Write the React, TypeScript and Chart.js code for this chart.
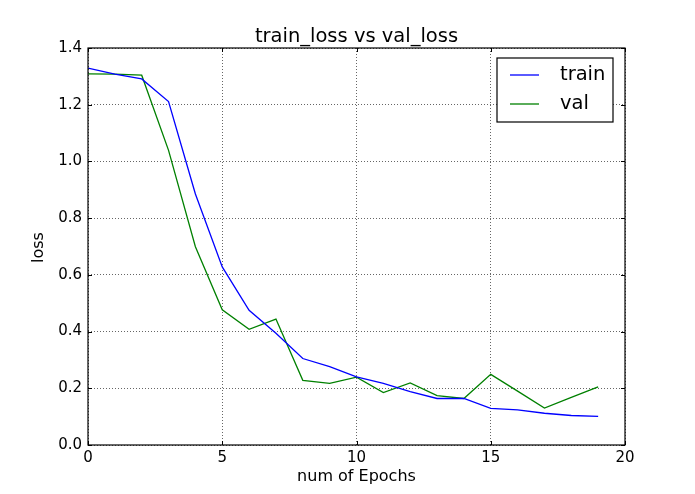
import React, { useEffect, useRef } from "react";
import { Chart, registerables } from "chart.js";

Chart.register(...registerables);

const epochs = [0, 1, 2, 3, 4, 5, 6, 7, 8, 9, 10, 11, 12, 13, 14, 15, 16, 17, 18, 19];
const trainLoss = [1.329, 1.308, 1.291, 1.211, 0.885, 0.628, 0.475, 0.394, 0.305, 0.276, 0.240, 0.217, 0.188, 0.164, 0.164, 0.129, 0.124, 0.112, 0.104, 0.101];
const valLoss = [1.309, 1.308, 1.304, 1.039, 0.699, 0.477, 0.408, 0.444, 0.228, 0.217, 0.239, 0.185, 0.219, 0.174, 0.164, 0.249, 0.190, 0.130, 0.168, 0.205];
const xTicks = [0, 5, 10, 15, 20];
const yTicks = [0, 0.2, 0.4, 0.6, 0.8, 1.0, 1.2, 1.4];
const titleText = "train_loss vs val_loss";
const xLabel = "num of Epochs";
const yLabel = "loss";
const seriesNames = ["train", "val"];
const seriesColors = ["#0000ff", "#008000"];

const FONT = "'DejaVu Sans', sans-serif";

const framePlugin = {
  id: "mplFrame",
  afterDraw(chart: any) {
    const { ctx, chartArea } = chart;
    const { left, right, top, bottom } = chartArea;
    const xs = chart.scales.x;
    const ys = chart.scales.y;
    ctx.save();
    // inward ticks
    ctx.strokeStyle = "#000";
    ctx.lineWidth = 1;
    ctx.beginPath();
    xTicks.forEach((t) => {
      const px = Math.round(xs.getPixelForValue(t)) + 0.5;
      ctx.moveTo(px, bottom);
      ctx.lineTo(px, bottom - 4);
      ctx.moveTo(px, top);
      ctx.lineTo(px, top + 4);
    });
    yTicks.forEach((t) => {
      const py = Math.round(ys.getPixelForValue(t)) + 0.5;
      ctx.moveTo(left, py);
      ctx.lineTo(left + 4, py);
      ctx.moveTo(right, py);
      ctx.lineTo(right - 4, py);
    });
    ctx.stroke();
    // frame
    ctx.lineWidth = 1.2;
    ctx.strokeRect(left, top, right - left, bottom - top);
    // title
    ctx.fillStyle = "#000";
    ctx.font = `19.5px ${FONT}`;
    ctx.textAlign = "center";
    ctx.textBaseline = "alphabetic";
    ctx.fillText(titleText, (left + right) / 2, top - 6);
    // axis labels
    ctx.font = `16px ${FONT}`;
    ctx.textBaseline = "middle";
    ctx.fillText(xLabel, (left + right) / 2, 477);
    ctx.save();
    ctx.translate(39, (top + bottom) / 2 + 1);
    ctx.rotate(-Math.PI / 2);
    ctx.fillText(yLabel, 0, 0);
    ctx.restore();
    // legend
    const bx = right - 128;
    const by = top + 10;
    const bw = 116;
    const bh = 64;
    ctx.fillStyle = "#fff";
    ctx.fillRect(bx, by, bw, bh);
    ctx.strokeStyle = "#000";
    ctx.lineWidth = 1.2;
    ctx.strokeRect(bx, by, bw, bh);
    ctx.font = `19.5px ${FONT}`;
    ctx.textAlign = "left";
    ctx.textBaseline = "middle";
    seriesNames.forEach((name, i) => {
      const cy = by + 17 + i * 29;
      ctx.strokeStyle = seriesColors[i];
      ctx.lineWidth = 1.3;
      ctx.beginPath();
      ctx.moveTo(bx + 13, cy);
      ctx.lineTo(bx + 42, cy);
      ctx.stroke();
      ctx.fillStyle = "#000";
      ctx.fillText(name, bx + 63, cy);
    });
    ctx.restore();
  },
};

export default function App() {
  const ref = useRef<HTMLCanvasElement>(null);
  useEffect(() => {
    if (!ref.current) return;
    const chart = new Chart(ref.current, {
      type: "line",
      data: {
        datasets: [
          {
            label: seriesNames[0],
            data: epochs.map((e, i) => ({ x: e, y: trainLoss[i] })),
            borderColor: seriesColors[0],
            borderWidth: 1.3,
            pointRadius: 0,
            fill: false,
            tension: 0,
          },
          {
            label: seriesNames[1],
            data: epochs.map((e, i) => ({ x: e, y: valLoss[i] })),
            borderColor: seriesColors[1],
            borderWidth: 1.3,
            pointRadius: 0,
            fill: false,
            tension: 0,
          },
        ],
      },
      options: {
        animation: false,
        responsive: false,
        devicePixelRatio: 1,
        layout: { padding: { top: 48, right: 70, left: 0, bottom: 0 } },
        plugins: { legend: { display: false }, title: { display: false }, tooltip: { enabled: false } },
        scales: {
          x: {
            type: "linear",
            min: 0,
            max: 20,
            afterBuildTicks: (s: any) => {
              s.ticks = xTicks.map((v) => ({ value: v }));
            },
            afterFit: (s: any) => {
              s.height = 49;
            },
            ticks: {
              color: "#000",
              font: { family: FONT, size: 15 },
              padding: 4,
              maxRotation: 0,
              callback: (v: any) => String(v),
            },
            grid: { color: "#555", lineWidth: 0.9, drawTicks: false },
            border: { display: false, dash: [1, 2] },
          },
          y: {
            type: "linear",
            min: 0,
            max: 1.4,
            afterBuildTicks: (s: any) => {
              s.ticks = yTicks.map((v) => ({ value: v }));
            },
            afterFit: (s: any) => {
              s.width = 88;
            },
            ticks: {
              color: "#000",
              font: { family: FONT, size: 15 },
              padding: 6,
              callback: (v: any) => Number(v).toFixed(1),
            },
            grid: { color: "#555", lineWidth: 0.9, drawTicks: false },
            border: { display: false, dash: [1, 2] },
          },
        },
      },
      plugins: [framePlugin],
    });
    return () => chart.destroy();
  }, []);
  return (
    <div style={{ position: "fixed", left: 0, top: 0, width: 695, height: 494, background: "#fff" }}>
      <canvas ref={ref} width={695} height={494} style={{ width: 695, height: 494 }} />
    </div>
  );
}
